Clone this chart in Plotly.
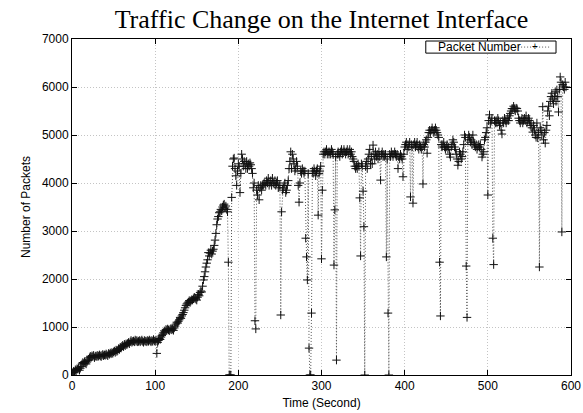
import numpy as np
import plotly.graph_objects as go

# Packets counted each second on the interface, t = 0 .. 594 s
packets = [
    20, 50, 80, 60, 110, 90, 130, 120, 150, 100,
    140, 180, 230, 260, 240, 280, 250, 230, 270, 300,
    330, 360, 390, 370, 400, 380, 410, 360, 390, 400,
    380, 410, 390, 420, 400, 380, 410, 430, 400, 420,
    410, 440, 420, 400, 450, 430, 460, 440, 470, 450,
    480, 500, 470, 520, 490, 510, 550, 530, 580, 560,
    600, 620, 590, 640, 610, 650, 630, 660, 680, 650,
    690, 720, 680, 700, 710, 690, 730, 700, 720, 690,
    700, 720, 690, 710, 730, 700, 680, 720, 700, 710,
    690, 720, 700, 730, 710, 690, 720, 700, 740, 710,
    700, 730, 450, 680, 720, 760, 740, 790, 820, 850,
    880, 920, 900, 950, 930, 960, 940, 920, 950, 970,
    940, 960, 930, 980, 1020, 1060, 1100, 1080, 1120, 1150,
    1200, 1180, 1230, 1260, 1300, 1350, 1400, 1450, 1480, 1500,
    1520, 1550, 1510, 1540, 1570, 1560, 1590, 1620, 1600, 1580,
    1560, 1620, 1680, 1650, 1720, 1750, 1730, 1850, 1980, 2050,
    2150, 2250, 2330, 2400, 2550, 2480, 2540, 2600, 2520, 2580,
    2620, 2700, 2810, 2950, 3130, 3250, 3300, 3380, 3400, 3450,
    3420, 3500, 3540, 3560, 3480, 3520, 3450, 3400, 2350, 0,
    0, 0, 3700, 4350, 4500, 4520, 4300, 4150, 3950, 4250,
    4400, 4350, 3800, 4200, 4600, 4500, 4350, 4450, 4400, 4300,
    4450, 4300, 4400, 4350, 4420, 4380, 4300, 4200, 3900, 4000,
    1130, 960, 3850, 3750, 3950, 3650, 3900, 3950, 3850, 3950,
    3950, 4000, 3980, 3950, 4050, 4000, 4100, 3950, 4000, 4050,
    3950, 4100, 4000, 3980, 4050, 3950, 4000, 4050, 3900, 3950,
    3950, 1250, 3400, 3850, 3900, 3950, 4000, 3800, 3850, 3950,
    4050, 4300, 4450, 4650, 4300, 4600, 4500, 4400, 4250, 4300,
    4450, 4350, 3950, 3600, 4000, 4250, 4200, 4300, 4250, 4200,
    4250, 2850, 2460, 1980, 4200, 560, 0, 0, 1290, 4250,
    4200, 4300, 4250, 4150, 4250, 4300, 3330, 4200, 4250, 4350,
    2420, 3850, 4600, 4650, 4600, 4650, 4700, 4600, 4650, 4600,
    4650, 4600, 4700, 4650, 4600, 2290, 3440, 4550, 310, 4600,
    4650, 4600, 4550, 4650, 4700, 4600, 4650, 4700, 4650, 4600,
    4650, 4700, 4600, 4650, 4700, 4600, 4650, 4550, 4500, 4450,
    4350, 4300, 4350, 4300, 4400, 4350, 3690, 2480, 4400, 4350,
    3830, 3090, 0, 4350, 4450, 4300, 4500, 4600, 4700, 4400,
    4550, 4400, 4790, 4600, 4500, 4650, 4550, 4600, 4500, 4650,
    4550, 4060, 4600, 4650, 4550, 4600, 4550, 4600, 2460, 4500,
    1290, 0, 4600, 4550, 4650, 4600, 4550, 4600, 4650, 4600,
    4550, 4600, 4300, 4550, 4500, 4600, 4550, 4500, 4130, 4600,
    4750, 4800, 4850, 4700, 4800, 4750, 4850, 3710, 4800, 4750,
    3580, 4800, 4850, 4750, 4800, 4850, 4750, 4700, 4800, 4750,
    4700, 4750, 3980, 4800, 4750, 4850, 4900, 4620, 4950, 5050,
    5100, 5050, 5100, 5150, 5100, 5050, 5100, 5150, 5100, 5050,
    5000, 4950, 2350, 1230, 4800, 4750, 4800, 4850, 4750, 4700,
    4750, 4800, 4700, 4750, 4600, 4540, 4750, 4800, 4900, 4850,
    4750, 4700, 4600, 4500, 4370, 4450, 4650, 4600, 4500, 4550,
    4650, 4800, 5000, 4950, 2270, 1200, 4900, 5000, 4950, 4850,
    4900, 4800, 5000, 4850, 4800, 4750, 4800, 4700, 4750, 4800,
    4750, 4800, 4700, 4540, 4600, 4650, 4900, 4950, 5050, 5150,
    3750, 5300, 5420, 5250, 5300, 5350, 2850, 2300, 5300, 5250,
    5300, 5250, 5350, 5300, 5200, 5250, 5100, 5020, 5300, 5250,
    5350, 5300, 5250, 5300, 5350, 5300, 5400, 5450, 5500, 5550,
    5550, 5600, 5550, 5500, 5560, 5550, 5500, 5350, 5300, 5250,
    5300, 5350, 5250, 5300, 5350, 5300, 5400, 5250, 5300, 5350,
    5300, 5200, 5250, 5150, 5060, 5200, 5100, 5000, 4950, 5250,
    4940, 5050, 2250, 5150, 5100, 5000, 5590, 4900, 5050, 4830,
    5100, 5200, 5500, 5600, 5400, 5700, 5800, 5870, 5750, 5650,
    5800, 5900, 5700, 5940, 5800, 5480, 5950, 6210, 6100, 2980,
    6050, 6000, 5950, 6100, 6000,
]
seconds = np.arange(len(packets))

x_ticks = [0, 100, 200, 300, 400, 500, 600]
y_ticks = [0, 1000, 2000, 3000, 4000, 5000, 6000, 7000]

line_style = dict(color="#555555", width=1, dash="1px,2px")

fig = go.Figure()
fig.add_trace(go.Scatter(
    x=seconds, y=packets, mode="lines+markers", name="Packet Number",
    line=line_style,
    marker=dict(symbol="cross-thin", size=6, line=dict(color="#111111", width=1)),
    showlegend=False,
))

axis_common = dict(
    showline=True, linecolor="black", linewidth=1, mirror="ticks",
    ticks="inside", ticklen=5, tickcolor="black", automargin=False,
    showgrid=True, gridcolor="#c4c4c4", griddash="1px,2px", gridwidth=1,
    zeroline=False, tickfont=dict(family="Liberation Sans", size=12, color="black"),
)

fig.update_xaxes(range=[0, 600], tickvals=x_ticks,
                 title=dict(text="Time (Second)", standoff=6,
                            font=dict(family="Liberation Sans", size=12, color="black")),
                 **axis_common)
fig.update_yaxes(range=[0, 7000], tickvals=y_ticks,
                 title=dict(text="Number of Packets", standoff=8,
                            font=dict(family="Liberation Sans", size=12, color="black")),
                 **axis_common)

# Key box in the upper right corner, label on the left and sample on the right
fig.add_shape(type="rect", xref="paper", yref="paper",
              x0=0.709, x1=0.97, y0=0.958, y1=0.994,
              line=dict(color="black", width=1), fillcolor="white")
fig.add_annotation(text="Packet Number", xref="paper", yref="paper",
                   x=0.73, y=0.976, xanchor="left", yanchor="middle", showarrow=False,
                   font=dict(family="Liberation Sans", size=12, color="black"))
fig.add_shape(type="line", xref="paper", yref="paper",
              x0=0.888, x1=0.958, y0=0.976, y1=0.976, line=line_style)
fig.add_annotation(text="+", xref="paper", yref="paper",
                   x=0.928, y=0.978, xanchor="center", yanchor="middle", showarrow=False,
                   font=dict(family="Liberation Sans", size=10, color="black"))

fig.update_layout(
    width=583, height=413,
    margin=dict(l=72, r=12, t=39, b=38),
    paper_bgcolor="white", plot_bgcolor="white",
    title=dict(text="Traffic Change on the Internet Interface",
               x=0.5, xref="paper", y=0.955, yref="container", yanchor="middle",
               font=dict(family="Liberation Serif", size=26, color="black")),
)

fig.write_html("out.html")
